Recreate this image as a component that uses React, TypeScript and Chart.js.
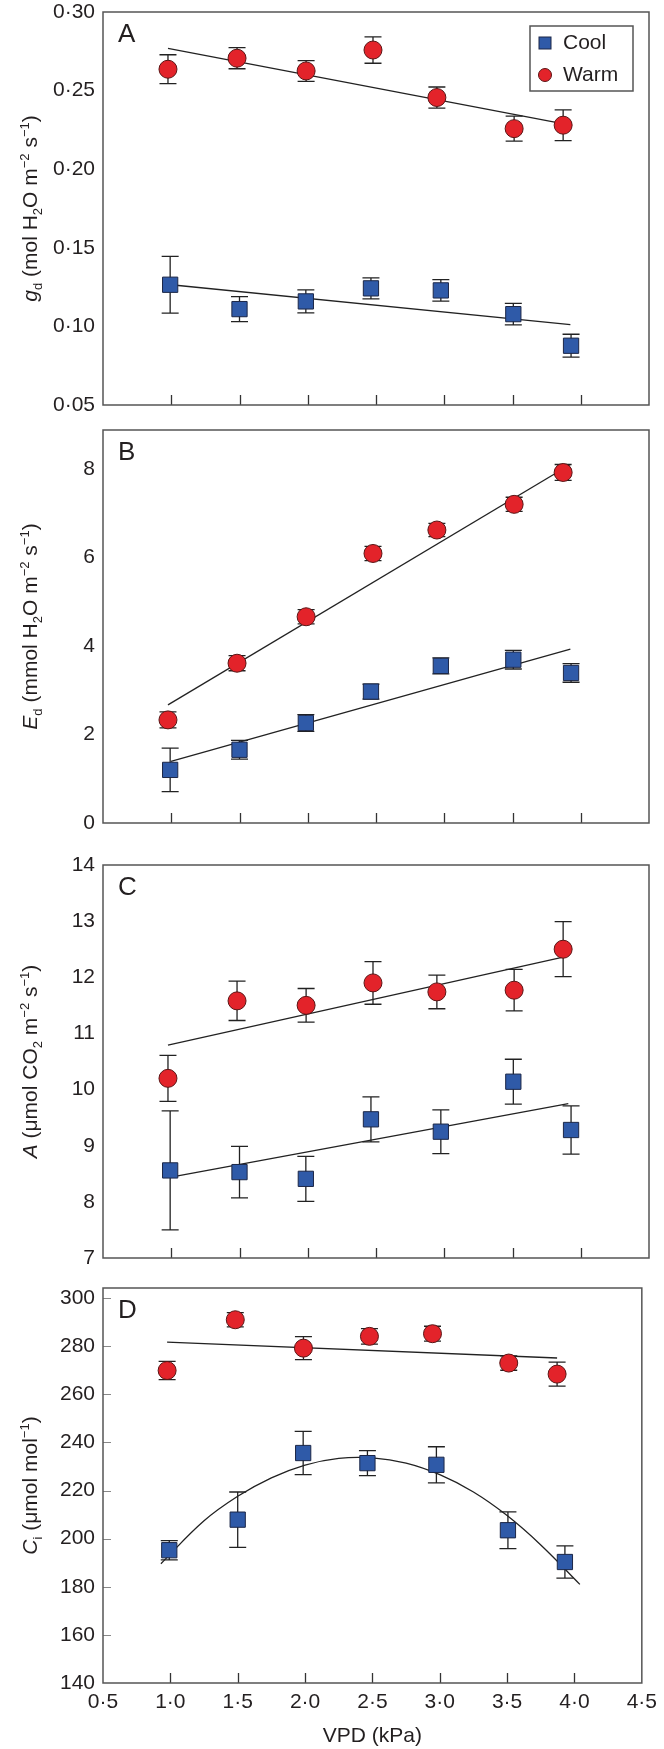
import React, { useEffect, useRef } from 'react';
import { Chart, registerables } from 'chart.js';

Chart.register(...registerables);

// ---------- shared axis data ----------
const xTickValues = [0.5, 1.0, 1.5, 2.0, 2.5, 3.0, 3.5, 4.0, 4.5];
const xInnerTicks = [1.0, 1.5, 2.0, 2.5, 3.0, 3.5, 4.0];
const warmVPD = [0.976, 1.482, 1.988, 2.478, 2.946, 3.512, 3.871];
const coolVPD = [0.992, 1.5, 1.986, 2.463, 2.975, 3.506, 3.929];

// ---------- Panel A: gd ----------
const gdTicks = [0.05, 0.1, 0.15, 0.2, 0.25, 0.3];
const gdWarm = [0.2636, 0.2706, 0.2625, 0.2758, 0.2456, 0.2258, 0.228];
const gdWarmErr = [0.0092, 0.0067, 0.0066, 0.0084, 0.0067, 0.008, 0.0098];
const gdCool = [0.1265, 0.111, 0.1159, 0.1242, 0.1229, 0.1078, 0.0877];
const gdCoolErr = [0.018, 0.008, 0.0073, 0.0067, 0.0068, 0.0068, 0.0073];
const gdWarmFitX = [0.976, 3.924];
const gdWarmFitY = [0.2769, 0.228];
const gdCoolFitX = [0.998, 3.924];
const gdCoolFitY = [0.1265, 0.1011];

// ---------- Panel B: Ed ----------
const edTicks = [0, 2, 4, 6, 8];
const edWarm = [2.33, 3.61, 4.66, 6.09, 6.62, 7.2, 7.92];
const edWarmErr = [0.18, 0.17, 0.16, 0.16, 0.15, 0.16, 0.18];
const edCool = [1.2, 1.655, 2.26, 2.97, 3.55, 3.69, 3.39];
const edCoolErr = [0.49, 0.21, 0.19, 0.17, 0.18, 0.21, 0.21];
const edWarmFitX = [0.976, 3.924];
const edWarmFitY = [2.67, 8.1];
const edCoolFitX = [0.998, 3.924];
const edCoolFitY = [1.39, 3.93];

// ---------- Panel C: A ----------
const aTicks = [7, 8, 9, 10, 11, 12, 13, 14];
const aWarm = [10.2, 11.58, 11.5, 11.9, 11.74, 11.77, 12.5];
const aWarmErr = [0.41, 0.35, 0.3, 0.38, 0.3, 0.37, 0.49];
const aCool = [8.56, 8.53, 8.41, 9.47, 9.25, 10.14, 9.28];
const aCoolErr = [1.06, 0.46, 0.4, 0.4, 0.39, 0.4, 0.43];
const aWarmFitX = [0.976, 3.871];
const aWarmFitY = [10.79, 12.36];
const aCoolFitX = [0.998, 3.909];
const aCoolFitY = [8.44, 9.75];

// ---------- Panel D: Ci ----------
const ciTicks = [140, 160, 180, 200, 220, 240, 260, 280, 300];
const ciWarm = [269.9, 291.0, 279.2, 284.1, 285.2, 273.0, 268.4];
const ciWarmErr = [3.8, 3.0, 4.8, 3.2, 3.1, 3.0, 5.0];
const ciCool = [195.2, 207.9, 235.6, 231.4, 230.7, 203.5, 190.3];
const ciCoolErr = [4.0, 11.5, 9.0, 5.2, 7.5, 7.6, 6.7];
const ciWarmFitX = [0.976, 3.871];
const ciWarmFitY = [281.7, 275.1];
const ciCoolCurveX = [0.93, 1.25, 1.5, 1.75, 2.0, 2.25, 2.5, 2.75, 3.0, 3.25, 3.5, 3.75, 4.04];
const ciCoolCurveY = [189.6, 207.4, 217.6, 225.3, 230.6, 233.4, 233.6, 231.4, 226.6, 219.4, 209.6, 197.4, 181.0];

// ---------- styling ----------
const W = 664;
const FONT = "'Liberation Sans', Arial, Helvetica, sans-serif";
const TEXT = '#231f20';
const WARM_FILL = '#e3232a';
const WARM_EDGE = '#5a1515';
const COOL_FILL = '#2f5aa8';
const COOL_EDGE = '#1c2747';
const PLOT_LEFT = 103;
const PLOT_RIGHT = 649;
const PAD = 40;

type Seg = { t: string; it?: boolean; sub?: boolean; sup?: boolean };

interface PanelDef {
  letter: string;
  top: number;
  bottom: number;
  yMin: number;
  yMax: number;
  yTicks: number[];
  fmt: (v: number) => string;
  title: Seg[];
  warm: number[];
  warmErr: number[];
  cool: number[];
  coolErr: number[];
  fits: { x: number[]; y: number[]; tension: number }[];
  showX: boolean;
  yInner: boolean;
  legend: boolean;
}

const pts = (xs: number[], ys: number[]) => xs.map((x, i) => ({ x, y: ys[i] }));

const panels: PanelDef[] = [
  {
    letter: 'A', top: 12, bottom: 405, yMin: 0.05, yMax: 0.3, yTicks: gdTicks,
    fmt: (v) => v.toFixed(2).replace('.', '·'),
    title: [{ t: 'g', it: true }, { t: 'd', sub: true }, { t: ' (mol H' }, { t: '2', sub: true }, { t: 'O m' }, { t: '−2', sup: true }, { t: ' s' }, { t: '−1', sup: true }, { t: ')' }],
    warm: gdWarm, warmErr: gdWarmErr, cool: gdCool, coolErr: gdCoolErr,
    fits: [{ x: gdWarmFitX, y: gdWarmFitY, tension: 0 }, { x: gdCoolFitX, y: gdCoolFitY, tension: 0 }],
    showX: false, yInner: false, legend: true,
  },
  {
    letter: 'B', top: 430, bottom: 823, yMin: 0, yMax: 8.88, yTicks: edTicks,
    fmt: (v) => String(v),
    title: [{ t: 'E', it: true }, { t: 'd', sub: true }, { t: ' (mmol H' }, { t: '2', sub: true }, { t: 'O m' }, { t: '−2', sup: true }, { t: ' s' }, { t: '−1', sup: true }, { t: ')' }],
    warm: edWarm, warmErr: edWarmErr, cool: edCool, coolErr: edCoolErr,
    fits: [{ x: edWarmFitX, y: edWarmFitY, tension: 0 }, { x: edCoolFitX, y: edCoolFitY, tension: 0 }],
    showX: false, yInner: false, legend: false,
  },
  {
    letter: 'C', top: 865, bottom: 1258, yMin: 7, yMax: 14, yTicks: aTicks,
    fmt: (v) => String(v),
    title: [{ t: 'A', it: true }, { t: ' (μmol CO' }, { t: '2', sub: true }, { t: ' m' }, { t: '−2', sup: true }, { t: ' s' }, { t: '−1', sup: true }, { t: ')' }],
    warm: aWarm, warmErr: aWarmErr, cool: aCool, coolErr: aCoolErr,
    fits: [{ x: aWarmFitX, y: aWarmFitY, tension: 0 }, { x: aCoolFitX, y: aCoolFitY, tension: 0 }],
    showX: false, yInner: false, legend: false,
  },
  {
    letter: 'D', top: 1288, bottom: 1683, yMin: 140, yMax: 304.2, yTicks: ciTicks,
    fmt: (v) => String(v),
    title: [{ t: 'C', it: true }, { t: 'i', sub: true }, { t: ' (μmol mol' }, { t: '−1', sup: true }, { t: ')' }],
    warm: ciWarm, warmErr: ciWarmErr, cool: ciCool, coolErr: ciCoolErr,
    fits: [{ x: ciWarmFitX, y: ciWarmFitY, tension: 0 }, { x: ciCoolCurveX, y: ciCoolCurveY, tension: 0.4 }],
    showX: true, yInner: true, legend: false,
  },
];

function drawRichVertical(ctx: CanvasRenderingContext2D, segs: Seg[], cx: number, cy: number, size: number) {
  const fontFor = (s: Seg) => {
    const sz = s.sub || s.sup ? size * 0.62 : size;
    return `${s.it ? 'italic ' : ''}${sz}px ${FONT}`;
  };
  let total = 0;
  const widths = segs.map((s) => {
    ctx.font = fontFor(s);
    const w = ctx.measureText(s.t).width;
    total += w;
    return w;
  });
  ctx.save();
  ctx.translate(cx, cy);
  ctx.rotate(-Math.PI / 2);
  ctx.fillStyle = TEXT;
  ctx.textBaseline = 'alphabetic';
  ctx.textAlign = 'left';
  let x = -total / 2;
  segs.forEach((s, i) => {
    ctx.font = fontFor(s);
    let dy = 0;
    if (s.sub) dy = size * 0.22;
    if (s.sup) dy = -size * 0.4;
    ctx.fillText(s.t, x, dy);
    x += widths[i];
  });
  ctx.restore();
}

function makeConfig(def: PanelDef): any {
  const decorPlugin = {
    id: 'decor' + def.letter,
    beforeDatasetsDraw(chart: any) {
      const ctx = chart.ctx as CanvasRenderingContext2D;
      const xs = chart.scales.x;
      const ys = chart.scales.y;
      ctx.save();
      ctx.strokeStyle = '#222';
      ctx.lineWidth = 1.3;
      chart.data.datasets.forEach((ds: any) => {
        if (!ds.errors) return;
        ds.data.forEach((p: any, j: number) => {
          const e = ds.errors[j];
          const x = xs.getPixelForValue(p.x);
          const yT = ys.getPixelForValue(p.y + e);
          const yB = ys.getPixelForValue(p.y - e);
          ctx.beginPath();
          ctx.moveTo(x, yT);
          ctx.lineTo(x, yB);
          ctx.moveTo(x - 8.5, yT);
          ctx.lineTo(x + 8.5, yT);
          ctx.moveTo(x - 8.5, yB);
          ctx.lineTo(x + 8.5, yB);
          ctx.stroke();
        });
      });
      ctx.restore();
    },
    afterDraw(chart: any) {
      const ctx = chart.ctx as CanvasRenderingContext2D;
      const ca = chart.chartArea;
      const xs = chart.scales.x;
      const ys = chart.scales.y;
      ctx.save();
      // inner x ticks
      ctx.strokeStyle = '#333';
      ctx.lineWidth = 1.3;
      xInnerTicks.forEach((v) => {
        const x = Math.round(xs.getPixelForValue(v)) + 0.5;
        ctx.beginPath();
        ctx.moveTo(x, ca.bottom);
        ctx.lineTo(x, ca.bottom - 10);
        ctx.stroke();
      });
      if (def.yInner) {
        ctx.strokeStyle = '#888';
        ctx.lineWidth = 1;
        def.yTicks.forEach((v) => {
          if (v <= def.yMin) return;
          const y = Math.round(ys.getPixelForValue(v)) + 0.5;
          ctx.beginPath();
          ctx.moveTo(ca.left, y);
          ctx.lineTo(ca.left + 8, y);
          ctx.stroke();
        });
      }
      // frame
      ctx.strokeStyle = '#555';
      ctx.lineWidth = 1.5;
      ctx.strokeRect(ca.left, ca.top, ca.right - ca.left, ca.bottom - ca.top);
      // panel letter
      ctx.fillStyle = TEXT;
      ctx.font = `26px ${FONT}`;
      ctx.textAlign = 'left';
      ctx.textBaseline = 'alphabetic';
      ctx.fillText(def.letter, ca.left + 15, ca.top + 30);
      // y title
      drawRichVertical(ctx, def.title, 37, (ca.top + ca.bottom) / 2, 21);
      // legend
      if (def.legend) {
        const bx = ca.right - 119;
        const by = ca.top + 14;
        ctx.strokeStyle = '#555';
        ctx.lineWidth = 1.5;
        ctx.strokeRect(bx, by, 103, 65);
        ctx.fillStyle = COOL_FILL;
        ctx.strokeStyle = COOL_EDGE;
        ctx.lineWidth = 1;
        ctx.fillRect(bx + 9, by + 11, 12, 12);
        ctx.strokeRect(bx + 9, by + 11, 12, 12);
        ctx.beginPath();
        ctx.arc(bx + 15, by + 49, 6.5, 0, Math.PI * 2);
        ctx.fillStyle = WARM_FILL;
        ctx.fill();
        ctx.strokeStyle = WARM_EDGE;
        ctx.stroke();
        ctx.fillStyle = TEXT;
        ctx.font = `21px ${FONT}`;
        ctx.textBaseline = 'middle';
        ctx.fillText('Cool', bx + 33, by + 17);
        ctx.fillText('Warm', bx + 33, by + 49);
      }
      ctx.restore();
    },
  };

  const datasets: any[] = [
    {
      label: 'Warm',
      data: pts(warmVPD, def.warm),
      errors: def.warmErr,
      pointStyle: 'circle',
      pointRadius: 9,
      pointHoverRadius: 9,
      backgroundColor: WARM_FILL,
      borderColor: WARM_EDGE,
      borderWidth: 1,
      order: 0,
    },
    {
      label: 'Cool',
      data: pts(coolVPD, def.cool),
      errors: def.coolErr,
      pointStyle: 'rect',
      pointRadius: 10.8,
      pointHoverRadius: 10.8,
      backgroundColor: COOL_FILL,
      borderColor: COOL_EDGE,
      borderWidth: 1,
      order: 1,
    },
    ...def.fits.map((f, i) => ({
      label: 'fit' + i,
      data: pts(f.x, f.y),
      showLine: true,
      pointRadius: 0,
      pointHoverRadius: 0,
      borderColor: '#222',
      borderWidth: 1.3,
      tension: f.tension,
      fill: false,
      order: 5,
    })),
  ];

  return {
    type: 'scatter',
    data: { datasets },
    options: {
      responsive: false,
      animation: false,
      devicePixelRatio: 1,
      layout: { padding: { left: 0, right: W - PLOT_RIGHT, top: PAD, bottom: def.showX ? 0 : PAD } },
      plugins: { legend: { display: false }, tooltip: { enabled: false } },
      scales: {
        x: {
          type: 'linear',
          min: 0.5,
          max: 4.5,
          display: def.showX,
          afterBuildTicks: (s: any) => {
            s.ticks = xTickValues.map((v) => ({ value: v }));
          },
          afterFit: (s: any) => {
            if (def.showX) s.height = 66;
          },
          grid: { display: false, drawTicks: false },
          border: { display: false },
          ticks: {
            padding: 7,
            color: TEXT,
            font: { family: FONT, size: 21 },
            maxRotation: 0,
            autoSkip: false,
            callback: (v: any) => Number(v).toFixed(1).replace('.', '·'),
          },
          title: {
            display: true,
            text: 'VPD (kPa)',
            color: TEXT,
            font: { family: FONT, size: 21 },
            padding: { top: 8, bottom: 0 },
          },
        },
        y: {
          type: 'linear',
          min: def.yMin,
          max: def.yMax,
          afterBuildTicks: (s: any) => {
            s.ticks = def.yTicks.map((v) => ({ value: v }));
          },
          afterFit: (s: any) => {
            s.width = PLOT_LEFT;
          },
          grid: { display: false, drawTicks: false },
          border: { display: false },
          ticks: {
            padding: 8,
            color: TEXT,
            font: { family: FONT, size: 21 },
            autoSkip: false,
            callback: (v: any) => def.fmt(Number(v)),
          },
        },
      },
    },
    plugins: [decorPlugin],
  };
}

function Panel({ def }: { def: PanelDef }) {
  const ref = useRef<HTMLCanvasElement>(null);
  const canvasTop = def.top - PAD;
  const canvasH = def.showX ? 1749 - canvasTop : def.bottom - def.top + 2 * PAD;
  useEffect(() => {
    const canvas = ref.current;
    if (!canvas) return;
    const chart = new Chart(canvas, makeConfig(def));
    return () => chart.destroy();
  }, []);
  return (
    <canvas
      ref={ref}
      width={W}
      height={canvasH}
      style={{ position: 'absolute', left: 0, top: canvasTop, width: W, height: canvasH }}
    />
  );
}

export default function App() {
  return (
    <div
      style={{
        position: 'absolute',
        left: 0,
        top: 0,
        width: W,
        height: 1749,
        background: '#fff',
        overflow: 'hidden',
      }}
    >
      {panels.map((p) => (
        <Panel key={p.letter} def={p} />
      ))}
    </div>
  );
}
